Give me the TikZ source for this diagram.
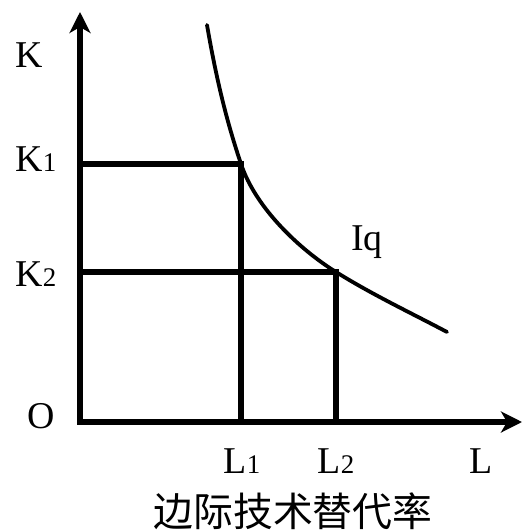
\documentclass[tikz,border=0pt]{standalone}
\usepackage{fontspec}
\setmainfont{Liberation Serif}
\newfontfamily\cjk{Noto Sans CJK SC}
\usetikzlibrary{arrows.meta}
\newcommand{\sbd}[1]{{\fontsize{27}{27}\selectfont #1}}
\begin{document}
\begin{tikzpicture}[x=1bp,y=-1bp,
  axis/.style={line width=5.5bp,-{Stealth[length=21bp,width=21bp,inset=6bp]}},
  guide/.style={line width=5.5bp},
  curve/.style={line width=3.8bp,line cap=round},
  lbl/.style={font=\fontsize{38}{38}\selectfont,inner sep=0pt,anchor=base}]
\useasboundingbox (0,0) rectangle (523,530);
\coordinate (O) at (80,422);
\coordinate (ytip) at (80,12);
\coordinate (xtip) at (522,422);
\coordinate (A) at (241,164);
\coordinate (B) at (336,272);
\coordinate (C0) at (207,25);
\coordinate (C9) at (447,332);
\coordinate (K1p) at (80,164);
\coordinate (K2p) at (80,272);
\coordinate (L1p) at (241,422);
\coordinate (L2p) at (336,422);
\draw[guide] (K1p) -- (A) -- (L1p);
\draw[guide] (K2p) -- (B) -- (L2p);
\draw[axis] ([yshift=2.75bp]O) -- (ytip);
\draw[axis] ([xshift=-2.75bp]O) -- (xtip);
\draw[curve] (C0) .. controls (218.3,90.6) and (229.7,130.1) .. (A)
  .. controls (256,209) and (301,250.3) .. (B)
  .. controls (373,295) and (410,312.4) .. (C9);
\node[lbl] (k) at (29,68) {K};
\node[lbl] (k1) at (36,172) {K\sbd{1}};
\node[lbl] (k2) at (36,286) {K\sbd{2}};
\node[lbl] (o) at (41,428) {O};
\node[lbl] (l1) at (242,473) {L\sbd{1}};
\node[lbl] (l2) at (336,473) {L\sbd{2}};
\node[lbl] (l) at (481,473) {L};
\node[lbl] (iq) at (367,250) {Iq};
\node[inner sep=0pt,font=\cjk\fontsize{40}{40}\selectfont] (cap) at (293,511) {边际技术替代率};
\end{tikzpicture}
\end{document}
